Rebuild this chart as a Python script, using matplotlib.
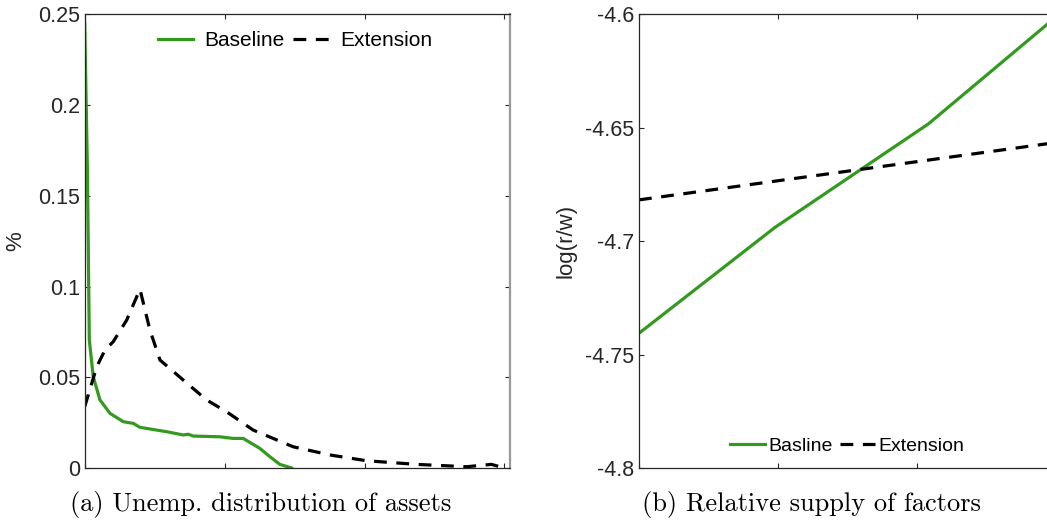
import matplotlib
matplotlib.use("Agg")
import matplotlib.pyplot as plt

plt.rcParams["font.family"] = ["Liberation Sans", "DejaVu Sans"]
plt.rcParams["axes.unicode_minus"] = False

# (a) unemployed distribution of assets
base_a_x = [0.0, 0.019, 0.033, 0.061, 0.109, 0.181, 0.276, 0.347, 0.395, 0.586,
            0.704, 0.740, 0.776, 0.966, 1.061, 1.133, 1.252, 1.324, 1.395, 1.479]
base_a_y = [0.245, 0.166, 0.0705, 0.0503, 0.0375, 0.0301, 0.0255, 0.0246, 0.0224, 0.0200,
            0.0182, 0.0186, 0.0176, 0.0172, 0.0163, 0.0163, 0.0108, 0.0062, 0.0020, 0.0]
ext_a_x = [0.0, 0.086, 0.145, 0.204, 0.300, 0.395, 0.466, 0.538, 0.704, 0.871,
           1.014, 1.204, 1.490, 1.752, 2.014, 2.371, 2.729, 2.907, 3.0]
ext_a_y = [0.0338, 0.0558, 0.0650, 0.0696, 0.0815, 0.0985, 0.0761, 0.0595, 0.0485, 0.0375,
           0.0310, 0.0209, 0.0117, 0.0072, 0.0040, 0.0020, 0.0007, 0.0020, 0.0]

# (b) relative supply of factors
base_b_x = [0.0, 0.976, 2.08, 3.0]
base_b_y = [-4.7406, -4.694, -4.6483, -4.601]
ext_b_x = [0.0, 3.0]
ext_b_y = [-4.6818, -4.6565]

GREEN = "#339a1f"
TXT = "#262626"
W, H = 1047, 521

fig = plt.figure(figsize=(W / 100, H / 100), dpi=100)
ax1 = fig.add_axes([84.7 / W, (H - 468) / H, (510 - 84.7) / W, (468 - 14.3) / H])
ax2 = fig.add_axes([639 / W, (H - 468) / H, (1062 - 639) / W, (468 - 14.3) / H])

for ax in (ax1, ax2):
    ax.tick_params(direction="in", length=3.5, width=0.8, top=True, right=True,
                   labelsize=15.5, labelcolor=TXT, color=TXT)
    for s in ax.spines.values():
        s.set_color(TXT)
        s.set_linewidth(0.9)
    ax.set_xlim(0, 3.04)
    ax.set_xticks([0, 1, 2, 3])
    ax.set_xticklabels([])
ax1.spines["right"].set_color("#999999")
ax1.spines["right"].set_linewidth(1.6)

dash = (4.0, 3.0)
ax1.plot(base_a_x, base_a_y, color=GREEN, lw=2.3, label="Baseline")
ax1.plot(ext_a_x, ext_a_y, color="black", lw=2.3, dashes=dash, label="Extension")
ax1.set_ylim(0, 0.25)
ax1.set_yticks([0, 0.05, 0.1, 0.15, 0.2, 0.25])
ax1.set_yticklabels(["0", "0.05", "0.1", "0.15", "0.2", "0.25"])
ax1.set_ylabel("%", fontsize=16, color=TXT, labelpad=8)
ax1.legend(loc="center", bbox_to_anchor=(295 / W, (H - 41) / H), bbox_transform=fig.transFigure,
           ncol=2, frameon=False, fontsize=15, handlelength=1.7, handletextpad=0.55,
           columnspacing=0.4, borderpad=0)

ax2.plot(base_b_x, base_b_y, color=GREEN, lw=2.3, label="Basline")
ax2.plot(ext_b_x, ext_b_y, color="black", lw=2.3, dashes=dash, label="Extension")
ax2.set_ylim(-4.8, -4.6)
ax2.set_yticks([-4.8, -4.75, -4.7, -4.65, -4.6])
ax2.set_yticklabels(["-4.8", "-4.75", "-4.7", "-4.65", "-4.6"])
ax2.set_ylabel("log(r/w)", fontsize=16, color=TXT, labelpad=6)
ax2.legend(loc="center", bbox_to_anchor=(847 / W, (H - 446) / H), bbox_transform=fig.transFigure,
           ncol=2, frameon=False, fontsize=14, handlelength=1.8, handletextpad=0.15,
           columnspacing=0.4, borderpad=0)

fig.text(260.5 / W, (H - 505) / H, "(a) Unemp. distribution of assets",
         family="cmr10", fontsize=19, ha="center", va="center")
fig.text(811 / W, (H - 505) / H, "(b) Relative supply of factors",
         family="cmr10", fontsize=19, ha="center", va="center")

fig.savefig("out.png", dpi=100)
